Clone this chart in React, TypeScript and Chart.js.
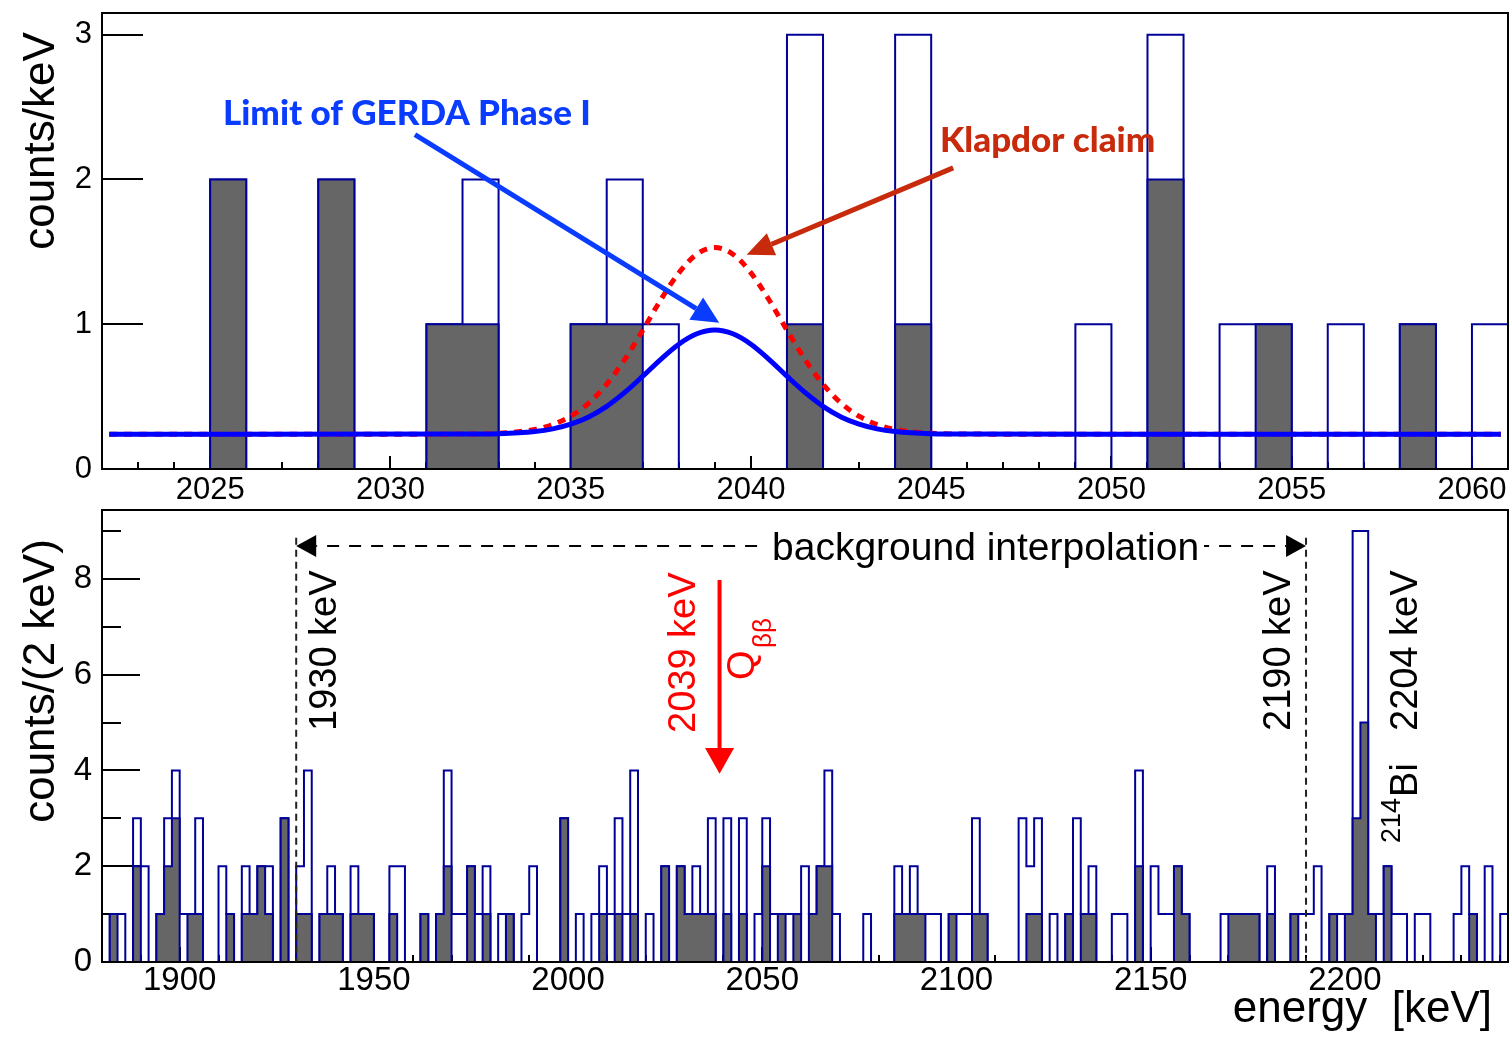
import { useEffect, useRef } from "react";
import { Chart, registerables } from "chart.js";

Chart.register(...registerables);

const SANS = '"Liberation Sans", Arial, Helvetica, sans-serif';
const LATO = 'Lato, "Noto Sans", sans-serif';

const HIST_LINE = "#000099";
const HIST_FILL = "#666666";
const NOTE_BLUE = "#0a3cff";
const NOTE_RED = "#c82a0c";

// Upper panel: events around Q_bb in 1 keV bins (2022 ... 2061 keV)
const FINE_START = 2022;
const FINE_WIDTH = 1;
const FINE_ALL = [0, 0, 0, 2, 0, 0, 2, 0, 0, 1, 2, 0, 0, 1, 2, 1, 0, 0, 0, 3, 0, 0, 3, 0, 0, 0, 0, 1, 0, 3, 0, 1, 1, 0, 1, 0, 1, 0, 1];
const FINE_PSD = [0, 0, 0, 2, 0, 0, 2, 0, 0, 1, 1, 0, 0, 1, 1, 0, 0, 0, 0, 1, 0, 0, 1, 0, 0, 0, 0, 0, 0, 2, 0, 0, 1, 0, 0, 0, 1, 0, 0];

// Expected spectra (counts/keV) at the sampled energies
const CURVE_E = [2022.2, 2032, 2033, 2034, 2034.5, 2035, 2035.5, 2036, 2036.5, 2037, 2037.5, 2038, 2038.5, 2039, 2039.5, 2040, 2040.5, 2041, 2041.5, 2042, 2042.5, 2043, 2043.5, 2044, 2045, 2046, 2060.8];
const GERDA_LIMIT = [0.24, 0.241, 0.244, 0.259, 0.277, 0.31, 0.36, 0.433, 0.529, 0.641, 0.758, 0.862, 0.934, 0.96, 0.934, 0.862, 0.758, 0.641, 0.529, 0.433, 0.36, 0.31, 0.277, 0.259, 0.244, 0.241, 0.24];
const KLAPDOR_CLAIM = [0.24, 0.241, 0.247, 0.273, 0.307, 0.365, 0.455, 0.586, 0.757, 0.959, 1.169, 1.355, 1.484, 1.53, 1.484, 1.355, 1.169, 0.959, 0.757, 0.586, 0.455, 0.365, 0.307, 0.273, 0.247, 0.241, 0.24];

// Lower panel: full window in 2 keV bins (1880 ... 2242 keV)
const WIDE_START = 1880;
const WIDE_WIDTH = 2;
const WIDE_ALL = [
  0, 1, 1, 0, 3, 2, 0, 1, 3, 4,
  1, 1, 3, 0, 0, 2, 1, 0, 2, 1,
  2, 2, 0, 3, 0, 2, 4, 0, 1, 2,
  1, 0, 2, 1, 1, 0, 0, 2, 2, 0,
  0, 1, 0, 1, 4, 1, 1, 2, 1, 2,
  0, 1, 1, 0, 1, 2, 0, 0, 0, 3,
  0, 1, 0, 1, 2, 1, 3, 1, 4, 0,
  1, 0, 2, 0, 2, 1, 2, 1, 3, 0,
  3, 0, 3, 0, 1, 3, 1, 1, 1, 1,
  2, 1, 2, 4, 1, 0, 0, 0, 1, 0,
  0, 0, 2, 1, 2, 1, 1, 1, 0, 1,
  1, 1, 3, 1, 0, 0, 0, 0, 3, 2,
  3, 0, 1, 0, 1, 3, 1, 2, 0, 0,
  1, 1, 0, 4, 0, 2, 1, 1, 2, 1,
  0, 0, 0, 0, 1, 1, 1, 1, 1, 0,
  2, 0, 0, 1, 1, 1, 2, 0, 1, 1,
  1, 9, 9, 1, 1, 2, 1, 1, 0, 1,
  1, 0, 0, 0, 1, 2, 1, 0, 2, 0,
  1,
];
const WIDE_PSD = [
  0, 1, 0, 0, 2, 0, 0, 1, 2, 3,
  0, 1, 1, 0, 0, 0, 1, 0, 1, 1,
  2, 1, 0, 3, 0, 1, 1, 0, 1, 1,
  1, 0, 1, 1, 1, 0, 0, 1, 0, 0,
  0, 1, 0, 1, 2, 0, 0, 2, 0, 1,
  0, 0, 1, 0, 0, 0, 0, 0, 0, 3,
  0, 0, 0, 0, 1, 0, 1, 0, 1, 0,
  0, 0, 2, 0, 2, 1, 1, 1, 1, 0,
  1, 0, 1, 0, 0, 2, 0, 1, 0, 1,
  0, 1, 2, 2, 0, 0, 0, 0, 0, 0,
  0, 0, 1, 1, 1, 1, 0, 0, 0, 1,
  0, 0, 1, 1, 0, 0, 0, 0, 0, 1,
  1, 0, 0, 0, 1, 0, 1, 1, 0, 0,
  0, 0, 0, 2, 0, 0, 0, 0, 2, 1,
  0, 0, 0, 0, 0, 1, 1, 1, 1, 0,
  1, 0, 0, 1, 0, 0, 0, 0, 1, 0,
  1, 3, 5, 1, 0, 2, 0, 0, 0, 0,
  0, 0, 0, 0, 0, 0, 1, 0, 0, 0,
  0,
];

// Axis ticks
const TOP_X_LABELS = [2025, 2030, 2035, 2040, 2045, 2050, 2055, 2060];
const TOP_Y_LABELS = [0, 1, 2, 3];
const BOT_X_LABELS = [1900, 1950, 2000, 2050, 2100, 2150, 2200];
const BOT_Y_LABELS = [0, 2, 4, 6, 8];
const BOT_Y_MINOR = [1, 3, 5, 7, 9];

function range(a: number, b: number, step: number) {
  const out: number[] = [];
  for (let v = a; v <= b + 1e-9; v += step) out.push(v);
  return out;
}

const TOP_X_MINOR = range(2023, 2060, 1).filter((v) => !TOP_X_LABELS.includes(v));
const BOT_X_MINOR = range(1890, 2240, 10).filter((v) => !BOT_X_LABELS.includes(v));

function histPoints(start: number, width: number, counts: number[]) {
  const pts = [{ x: start, y: 0 }];
  counts.forEach((c, i) => pts.push({ x: start + i * width, y: c }));
  pts.push({ x: start + counts.length * width, y: 0 });
  return pts;
}

function xAxis(min: number, max: number, labels: number[], size: number, pad: number, height: number) {
  return {
    type: "linear",
    min,
    max,
    grid: { display: false, drawTicks: false },
    border: { display: false },
    ticks: {
      color: "#000",
      font: { family: SANS, size, lineHeight: 1 },
      padding: pad,
      maxRotation: 0,
      minRotation: 0,
      autoSkip: false,
      callback: (v: any) => String(v),
    },
    afterBuildTicks: (s: any) => {
      s.ticks = labels.map((value) => ({ value }));
    },
    afterFit: (s: any) => {
      s.height = height;
      s.paddingLeft = 0;
      s.paddingRight = 0;
    },
  };
}

function yAxis(max: number, labels: number[], size: number, pad: number) {
  return {
    type: "linear",
    min: 0,
    max,
    grid: { display: false, drawTicks: false },
    border: { display: false },
    ticks: {
      color: "#000",
      font: { family: SANS, size, lineHeight: 1 },
      padding: pad,
      autoSkip: false,
      callback: (v: any) => String(v),
    },
    afterBuildTicks: (s: any) => {
      s.ticks = labels.map((value) => ({ value }));
    },
    afterFit: (s: any) => {
      s.width = 102;
      s.paddingTop = 0;
      s.paddingBottom = 0;
    },
  };
}

type TickSet = { major: number[]; minor: number[]; majorLen: number; minorLen: number };

function insideTicks(chart: any, tx: TickSet, ty: TickSet) {
  const { ctx, chartArea: a, scales } = chart;
  ctx.save();
  ctx.strokeStyle = "#000";
  ctx.lineWidth = 2;
  ctx.beginPath();
  const xs = [
    ...tx.major.map((v) => [v, tx.majorLen]),
    ...tx.minor.map((v) => [v, tx.minorLen]),
  ];
  for (const [v, len] of xs) {
    const px = Math.round(scales.x.getPixelForValue(v));
    ctx.moveTo(px, a.bottom);
    ctx.lineTo(px, a.bottom - len);
  }
  const ys = [
    ...ty.major.map((v) => [v, ty.majorLen]),
    ...ty.minor.map((v) => [v, ty.minorLen]),
  ];
  for (const [v, len] of ys) {
    const py = Math.round(scales.y.getPixelForValue(v));
    ctx.moveTo(a.left, py);
    ctx.lineTo(a.left + len, py);
  }
  ctx.stroke();
  ctx.restore();
}

function frame(chart: any) {
  const { ctx, chartArea: a } = chart;
  ctx.save();
  ctx.strokeStyle = "#000";
  ctx.lineWidth = 2;
  ctx.strokeRect(a.left, a.top, a.right - a.left, a.bottom - a.top);
  ctx.restore();
}

function arrow(ctx: any, x0: number, y0: number, x1: number, y1: number, color: string, width: number, headLen: number, headHalf: number, dash: number[] = []) {
  const ang = Math.atan2(y1 - y0, x1 - x0);
  const c = Math.cos(ang);
  const s = Math.sin(ang);
  const bx = x1 - headLen * c;
  const by = y1 - headLen * s;
  ctx.save();
  ctx.strokeStyle = color;
  ctx.lineWidth = width;
  ctx.setLineDash(dash);
  ctx.beginPath();
  ctx.moveTo(x0, y0);
  ctx.lineTo(bx, by);
  ctx.stroke();
  ctx.setLineDash([]);
  ctx.fillStyle = color;
  ctx.beginPath();
  ctx.moveTo(x1, y1);
  ctx.lineTo(bx + headHalf * s, by - headHalf * c);
  ctx.lineTo(bx - headHalf * s, by + headHalf * c);
  ctx.closePath();
  ctx.fill();
  ctx.restore();
}

function text(ctx: any, str: string, x: number, y: number, font: string, color: string, align = "left", rotated = false) {
  ctx.save();
  ctx.translate(x, y);
  if (rotated) ctx.rotate(-Math.PI / 2);
  ctx.font = font;
  ctx.fillStyle = color;
  ctx.textAlign = align;
  ctx.textBaseline = "alphabetic";
  ctx.fillText(str, 0, 0);
  ctx.restore();
}

const topPanel = {
  id: "topPanel",
  beforeDatasetsDraw(chart: any) {
    insideTicks(
      chart,
      { major: TOP_X_LABELS, minor: TOP_X_MINOR, majorLen: 13, minorLen: 7 },
      { major: TOP_Y_LABELS, minor: [], majorLen: 41, minorLen: 0 }
    );
  },
  afterDraw(chart: any) {
    const { ctx, scales } = chart;
    const x = scales.x;
    const y = scales.y;
    frame(chart);

    arrow(ctx, x.getPixelForValue(2030.68), y.getPixelForValue(2.31), x.getPixelForValue(2039.12), y.getPixelForValue(1.01), NOTE_BLUE, 5, 27, 13);
    text(ctx, "Limit of GERDA Phase I", 223, 125, `900 35px ${LATO}`, NOTE_BLUE);

    arrow(ctx, x.getPixelForValue(2045.61), y.getPixelForValue(2.08), x.getPixelForValue(2039.88), y.getPixelForValue(1.48), NOTE_RED, 5, 27, 12);
    text(ctx, "Klapdor claim", 940, 152, `900 35px ${LATO}`, NOTE_RED);

    text(ctx, "counts/keV", 54, 141, `44px ${SANS}`, "#000", "center", true);
  },
};

const bottomPanel = {
  id: "bottomPanel",
  beforeDatasetsDraw(chart: any) {
    insideTicks(
      chart,
      { major: BOT_X_LABELS, minor: BOT_X_MINOR, majorLen: 15, minorLen: 7 },
      { major: BOT_Y_LABELS, minor: BOT_Y_MINOR, majorLen: 38, minorLen: 19 }
    );
  },
  afterDraw(chart: any) {
    const { ctx, scales } = chart;
    const x = scales.x;
    const y = scales.y;
    frame(chart);

    const xLo = x.getPixelForValue(1930);
    const xHi = x.getPixelForValue(2190);
    const xQ = x.getPixelForValue(2039);
    const xBi = x.getPixelForValue(2204);

    // background window edges
    ctx.save();
    ctx.strokeStyle = "#222";
    ctx.lineWidth = 2;
    ctx.setLineDash([7, 5]);
    for (const px of [xLo, xHi]) {
      ctx.beginPath();
      ctx.moveTo(px, y.getPixelForValue(8.86));
      ctx.lineTo(px, y.getPixelForValue(0));
      ctx.stroke();
    }
    ctx.restore();

    // double arrow across the interpolation window
    const yArrow = y.getPixelForValue(8.69);
    const xMid = (xLo + xHi) / 2;
    arrow(ctx, xMid, yArrow, xLo, yArrow, "#000", 2, 20, 11, [12, 10]);
    arrow(ctx, xMid, yArrow, xHi, yArrow, "#000", 2, 20, 11, [12, 10]);
    ctx.save();
    ctx.fillStyle = "#fff";
    ctx.fillRect(758, yArrow - 18, 446, 34);
    ctx.restore();
    text(ctx, "background interpolation", 772, yArrow + 14, `39px ${SANS}`, "#000");

    // rotated labels
    const tail = y.getPixelForValue(0) - 231;
    text(ctx, "1930 keV", xLo + 40, tail, `38px ${SANS}`, "#000", "left", true);
    text(ctx, "2190 keV", xHi - 16, tail, `38px ${SANS}`, "#000", "left", true);
    text(ctx, "2204 keV", xBi + 57, tail, `38px ${SANS}`, "#000", "left", true);

    ctx.save();
    ctx.font = `27px ${SANS}`;
    const supW = ctx.measureText("214").width;
    ctx.restore();
    const biStart = y.getPixelForValue(0) - 119;
    text(ctx, "214", xBi + 40, biStart, `27px ${SANS}`, "#000", "left", true);
    text(ctx, "Bi", xBi + 57, biStart - supW - 1, `38px ${SANS}`, "#000", "left", true);

    text(ctx, "2039 keV", xQ - 25, tail + 2, `38px ${SANS}`, "#ff0000", "left", true);
    text(ctx, "Q", xQ + 34, y.getPixelForValue(0) - 282, `38px ${SANS}`, "#ff0000", "left", true);
    text(ctx, "\u03b2\u03b2", xQ + 51, y.getPixelForValue(0) - 314, `26px ${SANS}`, "#ff0000", "left", true);

    ctx.save();
    ctx.strokeStyle = "#ff0000";
    ctx.lineWidth = 4;
    ctx.beginPath();
    ctx.moveTo(xQ, y.getPixelForValue(7.98));
    ctx.lineTo(xQ, y.getPixelForValue(4.4));
    ctx.stroke();
    ctx.fillStyle = "#ff0000";
    ctx.beginPath();
    ctx.moveTo(xQ, y.getPixelForValue(3.93));
    ctx.lineTo(xQ - 14.5, y.getPixelForValue(4.47));
    ctx.lineTo(xQ + 14.5, y.getPixelForValue(4.47));
    ctx.closePath();
    ctx.fill();
    ctx.restore();

    text(ctx, "counts/(2 keV)", 54, 176, `44px ${SANS}`, "#000", "center", true);
    text(ctx, "energy  [keV]", 1492, 517, `44px ${SANS}`, "#000", "right");
  },
};

function histSets(start: number, width: number, all: number[], psd: number[]) {
  return [
    {
      label: "after PSD",
      data: histPoints(start, width, psd),
      stepped: "before",
      borderColor: HIST_LINE,
      borderWidth: 2,
      backgroundColor: HIST_FILL,
      fill: "origin",
      pointRadius: 0,
    },
    {
      label: "all events",
      data: histPoints(start, width, all),
      stepped: "before",
      borderColor: HIST_LINE,
      borderWidth: 2,
      fill: false,
      pointRadius: 0,
    },
  ];
}

function baseOptions(top: number, scales: any) {
  return {
    responsive: false,
    animation: false,
    devicePixelRatio: 1,
    events: [],
    layout: { padding: { top, right: 4, left: 0, bottom: 0 }, autoPadding: false },
    plugins: { legend: { display: false }, tooltip: { enabled: false }, title: { display: false } },
    scales,
  };
}

export default function App() {
  const topRef = useRef<HTMLCanvasElement>(null);
  const botRef = useRef<HTMLCanvasElement>(null);

  useEffect(() => {
    const top = new Chart(topRef.current as HTMLCanvasElement, {
      type: "line",
      data: {
        datasets: [
          {
            label: "Limit of GERDA Phase I",
            data: CURVE_E.map((e, i) => ({ x: e, y: GERDA_LIMIT[i] })),
            borderColor: "#0000ff",
            borderWidth: 5,
            pointRadius: 0,
            cubicInterpolationMode: "monotone",
            fill: false,
          },
          {
            label: "Klapdor claim",
            data: CURVE_E.map((e, i) => ({ x: e, y: KLAPDOR_CLAIM[i] })),
            borderColor: "#ff0000",
            borderWidth: 5,
            borderDash: [8, 7],
            pointRadius: 0,
            cubicInterpolationMode: "monotone",
            fill: false,
          },
          ...histSets(FINE_START, FINE_WIDTH, FINE_ALL, FINE_PSD),
        ],
      },
      options: baseOptions(13, {
        x: xAxis(2022, 2061, TOP_X_LABELS, 31, 6, 36),
        y: yAxis(3.15, TOP_Y_LABELS, 31, 10),
      }),
      plugins: [topPanel],
    } as any);

    const bottom = new Chart(botRef.current as HTMLCanvasElement, {
      type: "line",
      data: { datasets: histSets(WIDE_START, WIDE_WIDTH, WIDE_ALL, WIDE_PSD) },
      options: baseOptions(5, {
        x: xAxis(1880, 2242, BOT_X_LABELS, 33, 2, 77),
        y: yAxis(9.44, BOT_Y_LABELS, 33, 10),
      }),
      plugins: [bottomPanel],
    } as any);

    return () => {
      top.destroy();
      bottom.destroy();
    };
  }, []);

  return (
    <div style={{ position: "absolute", left: 0, top: 0, width: 1512, height: 1039, background: "#fff" }}>
      <canvas ref={topRef} width={1512} height={505} style={{ position: "absolute", left: 0, top: 0 }} />
      <canvas ref={botRef} width={1512} height={534} style={{ position: "absolute", left: 0, top: 505 }} />
    </div>
  );
}
